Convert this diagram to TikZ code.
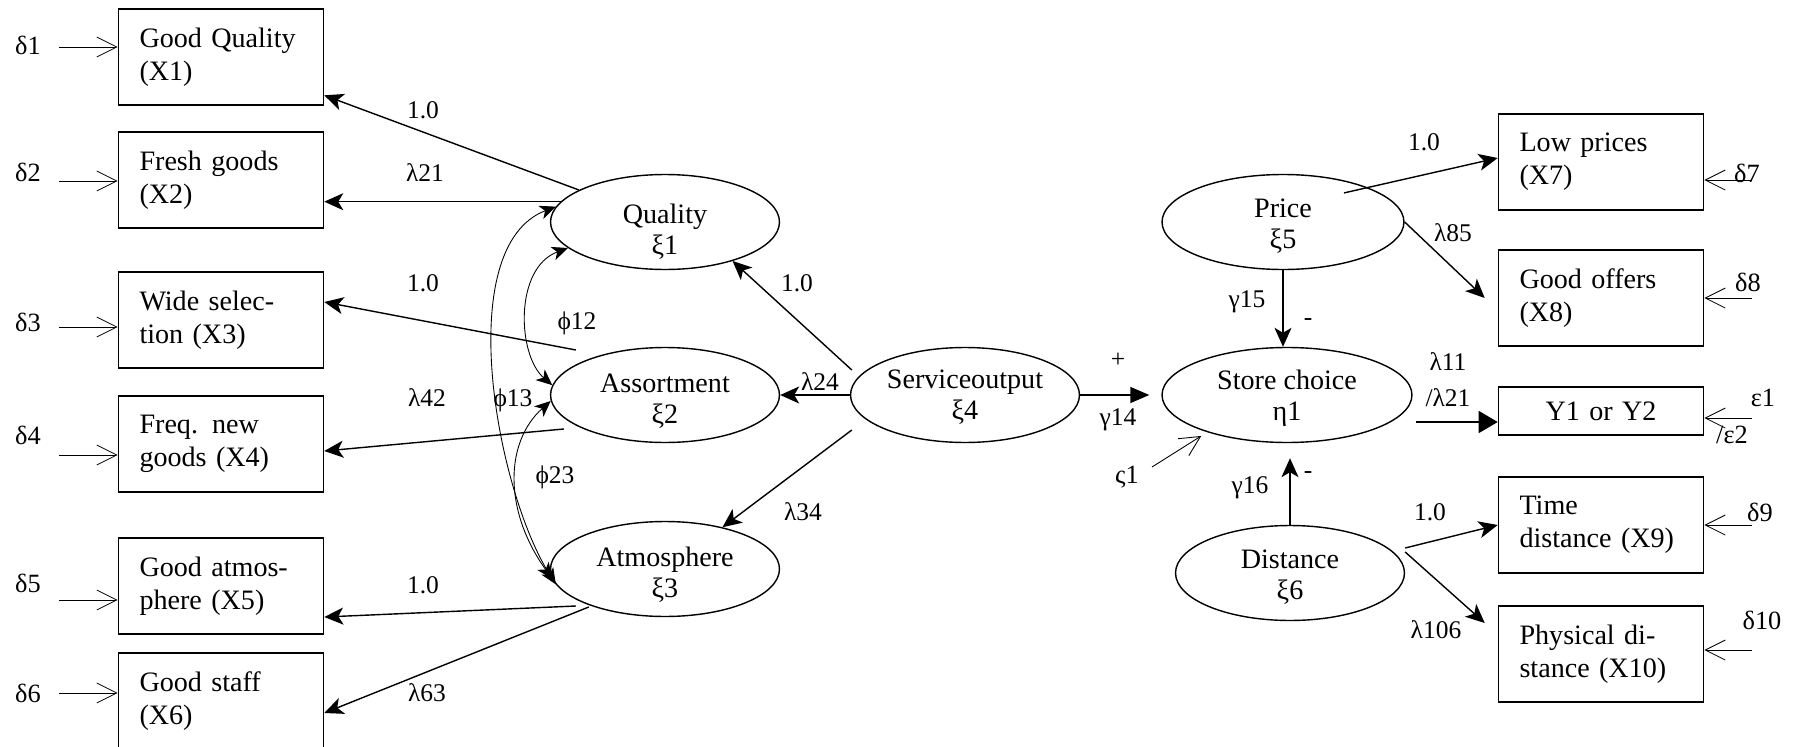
\documentclass[tikz,border=0pt]{standalone}
\usepackage{fontspec}
\setmainfont{Liberation Serif}
\usetikzlibrary{shapes,arrows.meta}

\begin{document}
\begin{tikzpicture}[x=0.02cm,y=-0.02cm]
\tikzstyle{every node}+=[inner sep=0pt, font=\fontsize{16}{18.7}\selectfont]
\tikzstyle{obs}=[draw, line width=0.9pt, text width=3.26cm, inner xsep=0.42cm, minimum height=1.92cm, align=left]
\tikzstyle{lat}=[draw, ellipse, line width=0.8pt, minimum width=4.58cm, minimum height=1.9cm]
\tikzstyle{latext}=[align=center, font=\fontsize{16}{17.6}\selectfont]
\tikzstyle{load}=[line width=0.8pt, -{Stealth[length=0.38cm,width=0.34cm,inset=0.1cm]}]
\tikzstyle{cov}=[line width=0.5pt, {Stealth[length=0.32cm,width=0.28cm,inset=0.09cm]}-{Stealth[length=0.32cm,width=0.28cm,inset=0.09cm]}]
\tikzstyle{err}=[line width=0.5pt, -{Straight Barb[length=0.4cm,width=0.4cm]}]
\tikzstyle{lbl}=[font=\fontsize{14.5}{17}\selectfont]
\tikzstyle{dlbl}=[font=\fontsize{15}{18}\selectfont]
\useasboundingbox (0,0) rectangle (1800,747);
\clip (0,0) rectangle (1800,747);

% indicators
\node[obs] (x1) at (221,57) {Good Quality\\(X1)};
\node[obs] (x2) at (221,180) {Fresh goods\\(X2)};
\node[obs] (x3) at (221,320) {Wide selec-\\tion (X3)};
\node[obs] (x4) at (221,444) {Freq. new\\goods (X4)};
\node[obs] (x5) at (221,586) {Good atmos-\\phere (X5)};
\node[obs] (x6) at (221,701) {Good staff\\(X6)};
\node[obs] (x7) at (1601,162) {Low prices\\(X7)};
\node[obs] (x8) at (1601,298) {Good offers\\(X8)};
\node[obs, minimum height=0.96cm, align=center] (y) at (1601,411) {Y1 or Y2};
\node[obs] (x9) at (1601,525) {Time\\distance (X9)};
\node[obs] (x10) at (1601,654) {Physical di-\\stance (X10)};

% latent variables
\node[lat] (qual) at (665,222) {};
\node[lat] (asso) at (665,395) {};
\node[lat] (atmo) at (665,569) {};
\node[lat] (serv) at (965,395) {};
\node[lat, minimum width=4.84cm] (price) at (1283,222) {};
\node[lat, minimum width=5cm] (choice) at (1287,395) {};
\node[lat] (dist) at (1290,573) {};
\node[latext] (qualt) at (665,232) {Quality\\ξ1};
\node[latext] (assot) at (665,401) {Assortment\\ξ2};
\node[latext] (atmot) at (665,575) {Atmosphere\\ξ3};
\node[latext] (servt) at (965,397) {Serviceoutput\\ξ4};
\node[latext] (pricet) at (1283,226) {Price\\ξ5};
\node[latext] (choicet) at (1287,398) {Store choice\\η1};
\node[latext] (distt) at (1290,577) {Distance\\ξ6};

% error terms
\node[dlbl] (d1) at (28,45) {δ1};
\node[dlbl] (d2) at (28,172) {δ2};
\node[dlbl] (d3) at (28,322) {δ3};
\node[dlbl] (d4) at (28,435) {δ4};
\node[dlbl] (d5) at (28,583) {δ5};
\node[dlbl] (d6) at (28,693) {δ6};
\coordinate (e1) at (59,47);
\coordinate (e2) at (59,181);
\coordinate (e3) at (59,327);
\coordinate (e4) at (59,455);
\coordinate (e5) at (59,600);
\coordinate (e6) at (59,693);
\draw[err] (e1) -- (e1 -| x1.west);
\draw[err] (e2) -- (e2 -| x2.west);
\draw[err] (e3) -- (e3 -| x3.west);
\draw[err] (e4) -- (e4 -| x4.west);
\draw[err] (e5) -- (e5 -| x5.west);
\draw[err] (e6) -- (e6 -| x6.west);
\node[dlbl] (d7) at (1747,173) {δ7};
\node[dlbl] (d8) at (1748,282) {δ8};
\node[dlbl] (eps1) at (1763,398) {ε1};
\node[dlbl] (eps2) at (1732,435) {/ε2};
\node[dlbl] (d9) at (1760,512) {δ9};
\node[dlbl] (d10) at (1762,620) {δ10};
\coordinate (e7) at (1752,180);
\coordinate (e8) at (1752,298);
\coordinate (ey) at (1752,418);
\coordinate (e9) at (1752,525);
\coordinate (e10) at (1752,650);
\draw[err] (e7) -- (e7 -| x7.east);
\draw[err] (e8) -- (e8 -| x8.east);
\draw[err] (ey) -- (ey -| y.east);
\draw[err] (e9) -- (e9 -| x9.east);
\draw[err] (e10) -- (e10 -| x10.east);
\node[dlbl] (z1) at (1127,477) {ς1};
\coordinate (zeta) at (1152,467);
\draw[err, shorten >=4pt] (zeta) -- (choice.205);

% loadings
\draw[load] (qual) -- (x1);
\draw[load] (qual.169) -- (qual.169 -| x2.east);
\draw[load] ([shift={(26,-45)}]asso.west) -- ([shift={(0,-18)}]x3.east);
\draw[load] ([shift={(14,34)}]asso.west) -- ([shift={(0,7)}]x4.east);
\draw[load] ([shift={(26,37)}]atmo.west) -- ([shift={(0,31)}]x5.east);
\draw[load] ([shift={(39,38)}]atmo.west) -- ([shift={(0,12)}]x6.east);
\draw[load] ([shift={(2,-25)}]serv.west) -- (qual.-30);
\draw[load] (serv.west) -- (asso.east);
\draw[load] ([shift={(2,35)}]serv.west) -- (atmo.36);
\draw[load, -{Triangle[length=0.38cm,width=0.32cm]}, shorten >=0.24cm] (serv.east) -- (choice.west);
\draw[load] ([shift={(-25,5)}]price.north east) -- ([shift={(0,-4)}]x7.west);
\draw[load] (price.east) -- ([shift={(-13,0)}]x8.west);
\draw[load] (price.south) -- (price.south |- choice.north);
\draw[load, -{Triangle[length=0.38cm,width=0.44cm]}] ([shift={(3,27)}]choice.east) -- ([shift={(0,11)}]y.west);
\draw[load, shorten >=0.3cm] (dist.north) -- (dist.north |- choice.south);
\draw[load] ([shift={(0,-25)}]dist.east) -- (x9.west);
\draw[load] ([shift={(0,-21)}]dist.east) -- ([shift={(-13,-31)}]x10.west);

% correlations
\draw[cov] (qual.172) .. controls +(-104,40) and +(-60,-95) .. (atmo.188);
\draw[cov] (qual.195) .. controls +(-54,20) and +(-35,-30) .. (asso.175);
\draw[cov] (asso.183) .. controls +(-45,40) and +(-50,-70) .. (atmo.185);

% labels
\node[lbl] (l1) at (423,110) {1.0};
\node[lbl] (l2) at (425,173) {λ21};
\node[lbl] (l3) at (423,283) {1.0};
\node[lbl] (l4) at (427,398) {λ42};
\node[lbl] (l5) at (423,585) {1.0};
\node[lbl] (l6) at (427,693) {λ63};
\node[lbl] (p12) at (577,323) {ϕ12};
\node[lbl] (p13) at (513,400) {ϕ13};
\node[lbl] (p23) at (555,477) {ϕ23};
\node[lbl] (l7) at (797,283) {1.0};
\node[lbl] (l8) at (820,382) {λ24};
\node[lbl] (l9) at (803,512) {λ34};
\node[lbl] (plus) at (1118,360) {+};
\node[lbl] (g14) at (1118,420) {γ14};
\node[lbl] (l10) at (1424,142) {1.0};
\node[lbl] (l11) at (1453,233) {λ85};
\node[lbl] (g15) at (1247,302) {γ15};
\node[lbl] (m1) at (1308,322) {-};
\node[lbl] (l12) at (1448,362) {λ11};
\node[lbl] (l13) at (1448,398) {/λ21};
\node[lbl] (g16) at (1250,488) {γ16};
\node[lbl] (m2) at (1308,475) {-};
\node[lbl] (l14) at (1430,512) {1.0};
\node[lbl] (l15) at (1436,630) {λ106};
\end{tikzpicture}
\end{document}
